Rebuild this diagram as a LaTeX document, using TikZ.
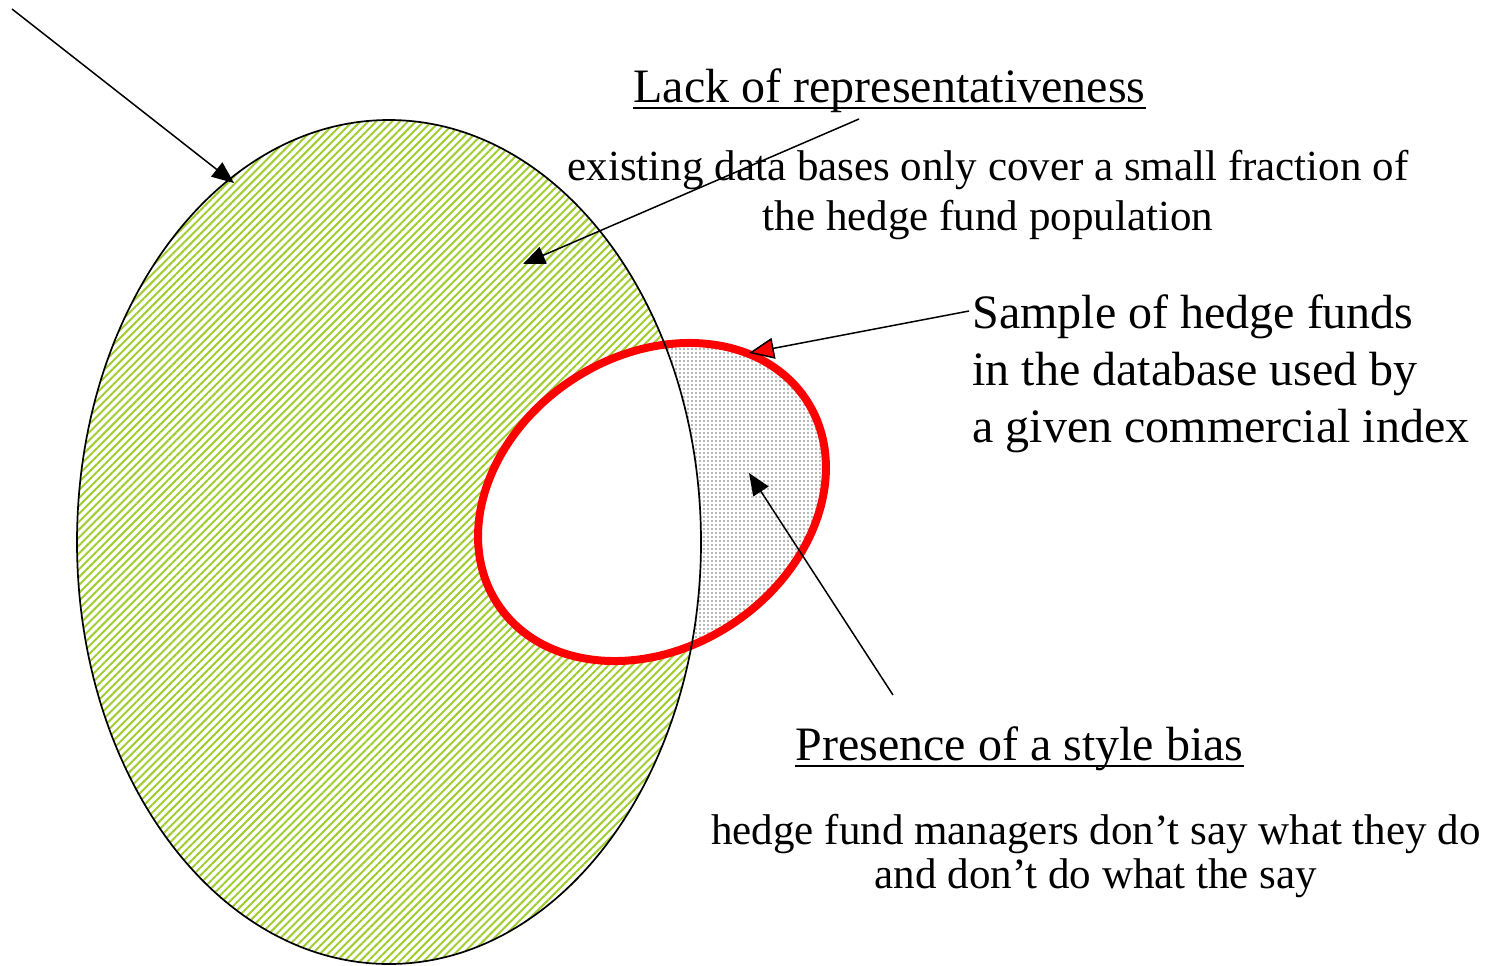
\documentclass[tikz,border=0pt]{standalone}
\usepackage{fontspec}
\setmainfont{Liberation Serif}
\usetikzlibrary{arrows.meta,patterns.meta}
\definecolor{hatchgreen}{RGB}{160,205,50}
\definecolor{dotgray}{RGB}{160,160,160}
\begin{document}
\begin{tikzpicture}[x=0.5pt,y=-0.5pt,
  big/.style={font=\fontsize{24}{28.5}\selectfont, inner sep=0pt},
  small/.style={font=\fontsize{21.5}{25}\selectfont, inner sep=0pt},
  arr/.style={line width=0.75pt, -{Triangle[length=11pt,width=9pt]}},
  ulin/.style={line width=1pt},
  bigell/.style={x radius=312, y radius=422},
  redell/.style={x radius=185, y radius=146},
]
\useasboundingbox (0,0) rectangle (1490,965);
\coordinate (bigc) at (389,542);
\coordinate (redc) at (652,502);
% green hatched population
\fill[pattern={Lines[angle=45,distance=2.8pt,line width=1pt]}, pattern color=hatchgreen]
  (bigc) ellipse [bigell];
% sample interior
\fill[white, rotate around={33.7:(redc)}] (redc) ellipse [redell];
\begin{scope}
  \clip[rotate around={33.7:(redc)}] (redc) ellipse [redell];
  \fill[even odd rule, pattern={Dots[distance=2pt,radius=0.6pt]}, pattern color=dotgray]
    (0,0) rectangle (1490,965) (bigc) ellipse [bigell];
\end{scope}
\draw[red, line width=4pt, rotate around={33.7:(redc)}] (redc) ellipse [redell];
\draw[line width=0.85pt] (bigc) ellipse [bigell];

% texts
\node[big, anchor=base] (lack) at (889.5,102) {Lack of representativeness};
\draw[ulin] ([yshift=-3pt]lack.base west) -- ([yshift=-3pt]lack.base east);
\node[small, align=center, anchor=base] (exist) at (988,230)
  {existing data bases only cover a small fraction of\\the hedge fund population};
\node[big, align=left, anchor=base west] (sample) at (972,442)
  {Sample of hedge funds\\in the database used by\\a given commercial index};
\node[big, anchor=base] (pres) at (1019.5,760) {Presence of a style bias};
\draw[ulin] ([yshift=-3pt]pres.base west) -- ([yshift=-3pt]pres.base east);
\node[small, align=center, anchor=base] (say) at (1096,888)
  {hedge fund managers don’t say what they do\\[-3pt]and don’t do what the say};

% connectors
\coordinate (s1) at (12,9);
\coordinate (t1) at (234,183);
\draw[arr] (s1) -- (t1);
\coordinate (s2) at (859,119);
\coordinate (t2) at (523,264);
\draw[arr] (s2) -- (t2);
\coordinate (s3) at (969,311);
\coordinate (t3) at (749,353);
\draw[line width=0.75pt, -{Triangle[length=12.5pt,width=10.5pt,fill=red]}] (s3) -- (t3);
\coordinate (s4) at (893,695);
\coordinate (t4) at (749,473);
\draw[arr] (s4) -- (t4);
\end{tikzpicture}
\end{document}
